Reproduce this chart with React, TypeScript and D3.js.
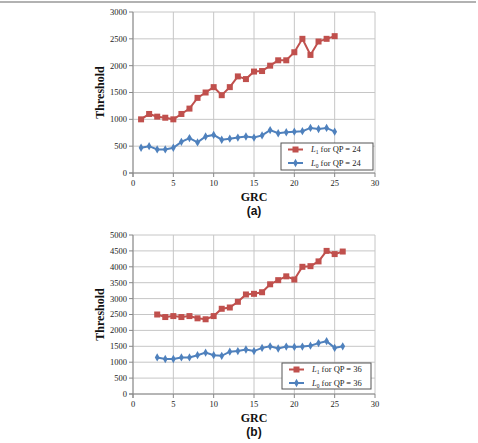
import React from 'react';
import * as d3 from 'd3';

// panel (a): QP = 24
const grcA = [1, 2, 3, 4, 5, 6, 7, 8, 9, 10, 11, 12, 13, 14, 15, 16, 17, 18, 19, 20, 21, 22, 23, 24, 25];
const l1A = [1000, 1100, 1050, 1030, 1000, 1100, 1200, 1400, 1500, 1600, 1450, 1600, 1800, 1750, 1890, 1900, 2000, 2100, 2100, 2250, 2500, 2200, 2450, 2500, 2550];
const l0A = [470, 500, 440, 440, 470, 580, 650, 570, 680, 710, 620, 640, 660, 680, 660, 700, 800, 740, 760, 770, 780, 840, 820, 840, 770];

// panel (b): QP = 36
const grcB = [3, 4, 5, 6, 7, 8, 9, 10, 11, 12, 13, 14, 15, 16, 17, 18, 19, 20, 21, 22, 23, 24, 25, 26];
const l1B = [2500, 2420, 2450, 2420, 2450, 2380, 2350, 2450, 2680, 2720, 2900, 3130, 3150, 3200, 3450, 3580, 3700, 3600, 4000, 4020, 4170, 4500, 4400, 4480];
const l0B = [1150, 1100, 1100, 1150, 1150, 1220, 1300, 1220, 1200, 1330, 1350, 1400, 1350, 1450, 1500, 1430, 1490, 1480, 1490, 1520, 1600, 1660, 1450, 1500];

const xTicks = [0, 5, 10, 15, 20, 25, 30];

const RED = '#c0504d';
const BLUE = '#4f81bd';
const GRID = '#c6c6c6';
const SERIF = '"Liberation Serif", "DejaVu Serif", serif';
const SANS = '"Liberation Sans", Arial, sans-serif';

type PanelProps = {
  top: number;
  bottom: number;
  yMax: number;
  yStep: number;
  grc: number[];
  l1: number[];
  l0: number[];
  qp: number;
  tag: string;
  legend: { x: number; y: number; w: number; h: number };
};

const Panel = ({ top, bottom, yMax, yStep, grc, l1, l0, qp, tag, legend }: PanelProps) => {
  const left = 133;
  const right = 375;
  const x = d3.scaleLinear().domain([0, 30]).range([left, right]);
  const y = d3.scaleLinear().domain([0, yMax]).range([bottom, top]);
  const yTicks = d3.range(0, yMax + 1, yStep);
  const line = d3.line<number>()
    .x((_, i) => x(grc[i]))
    .y(d => y(d));
  const diamond = d3.symbol(d3.symbolDiamond, 20)() ?? '';
  const midX = (left + right) / 2;
  const midY = (top + bottom) / 2;
  const r1 = legend.y + 6.5;
  const r2 = legend.y + 20;

  return (
    <g>
      {/* gridlines */}
      {yTicks.map(t => (
        <line key={'gy' + t} x1={left} x2={right} y1={y(t)} y2={y(t)} stroke={GRID} strokeWidth={1} />
      ))}
      {xTicks.map(t => (
        <line key={'gx' + t} x1={x(t)} x2={x(t)} y1={top} y2={bottom} stroke={GRID} strokeWidth={1} />
      ))}
      {/* axes */}
      <line x1={left} x2={left} y1={top} y2={bottom + 4} stroke="#888" />
      <line x1={left - 4} x2={right} y1={bottom} y2={bottom} stroke="#888" />
      {yTicks.map(t => (
        <g key={'yt' + t}>
          <line x1={left - 4} x2={left} y1={y(t)} y2={y(t)} stroke="#888" />
          <text x={left - 6} y={y(t)} dy="0.35em" textAnchor="end" fontFamily={SERIF} fontSize={8.5} fill="#222">{t}</text>
        </g>
      ))}
      {xTicks.map(t => (
        <g key={'xt' + t}>
          <line x1={x(t)} x2={x(t)} y1={bottom} y2={bottom + 4} stroke="#888" />
          <text x={x(t)} y={bottom + 13} textAnchor="middle" fontFamily={SERIF} fontSize={8.5} fill="#222">{t}</text>
        </g>
      ))}
      {/* series */}
      <path d={line(l1) ?? ''} fill="none" stroke={RED} strokeWidth={2} />
      {l1.map((v, i) => (
        <rect key={'m1' + i} x={x(grc[i]) - 3} y={y(v) - 3} width={6} height={6} fill={RED} />
      ))}
      <path d={line(l0) ?? ''} fill="none" stroke={BLUE} strokeWidth={2} />
      {l0.map((v, i) => (
        <path key={'m0' + i} d={diamond} transform={`translate(${x(grc[i])},${y(v)})`} fill={BLUE} />
      ))}
      {/* legend */}
      <rect x={legend.x} y={legend.y} width={legend.w} height={legend.h} fill="#fff" stroke="#555" strokeWidth={1} />
      <line x1={legend.x + 7} x2={legend.x + 22} y1={r1} y2={r1} stroke={RED} strokeWidth={2} />
      <rect x={legend.x + 11.5} y={r1 - 3} width={6} height={6} fill={RED} />
      <text x={legend.x + 30} y={r1} dy="0.35em" fontFamily={SERIF} fontSize={8.5} fill="#222">
        <tspan fontStyle="italic">L</tspan><tspan fontSize={5.5} dy="2">1</tspan><tspan dy="-2">{` for QP = ${qp}`}</tspan>
      </text>
      <line x1={legend.x + 7} x2={legend.x + 22} y1={r2} y2={r2} stroke={BLUE} strokeWidth={2} />
      <path d={diamond} transform={`translate(${legend.x + 14.5},${r2})`} fill={BLUE} />
      <text x={legend.x + 30} y={r2} dy="0.35em" fontFamily={SERIF} fontSize={8.5} fill="#222">
        <tspan fontStyle="italic">L</tspan><tspan fontSize={5.5} dy="2">0</tspan><tspan dy="-2">{` for QP = ${qp}`}</tspan>
      </text>
      {/* axis titles */}
      <text transform={`translate(${left - 29},${midY}) rotate(-90)`} textAnchor="middle" fontFamily={SERIF} fontWeight="bold" fontSize={12} fill="#111">Threshold</text>
      <text x={midX} y={bottom + 28} textAnchor="middle" fontFamily={SERIF} fontWeight="bold" fontSize={12} fill="#111">GRC</text>
      <text x={midX} y={bottom + 42} textAnchor="middle" fontFamily={SANS} fontWeight="bold" fontSize={12} fill="#111">{tag}</text>
    </g>
  );
};

export default function App() {
  return (
    <svg width={478} height={443} style={{ position: 'absolute', left: 0, top: 0, background: '#fff' }}>
      <line x1={0} x2={476} y1={2} y2={2} stroke="#999" strokeWidth={1.5} />
      <Panel top={12} bottom={173} yMax={3000} yStep={500} grc={grcA} l1={l1A} l0={l0A} qp={24} tag="(a)"
        legend={{ x: 281, y: 143, w: 92, h: 27 }} />
      <Panel top={235} bottom={394} yMax={5000} yStep={500} grc={grcB} l1={l1B} l0={l0B} qp={36} tag="(b)"
        legend={{ x: 282, y: 363, w: 89, h: 26 }} />
    </svg>
  );
}
